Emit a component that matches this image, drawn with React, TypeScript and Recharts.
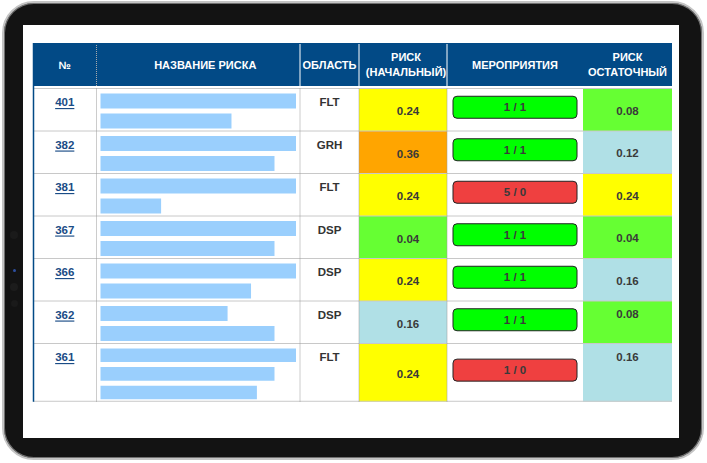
import React from "react";
import {
  ComposedChart,
  XAxis,
  YAxis,
  ReferenceArea,
  ReferenceLine,
  Scatter,
} from "recharts";

const riskIds = ["401", "382", "381", "367", "366", "362", "361"];
const riskAreas = ["FLT", "GRH", "FLT", "DSP", "DSP", "DSP", "FLT"];
const riskInitial = [0.24, 0.36, 0.24, 0.04, 0.24, 0.16, 0.24];
const measuresTotal = [1, 1, 5, 1, 1, 1, 1];
const measuresDone = [1, 1, 0, 1, 1, 1, 0];
const riskResidual = [0.08, 0.12, 0.24, 0.04, 0.16, 0.08, 0.16];
// risk titles are hidden: length of each text line, % of column width
const titleLines = [
  [100, 67],
  [100, 89],
  [100, 31],
  [100, 89],
  [100, 77],
  [65, 89],
  [100, 89, 80],
];
const headers = [
  ["№"],
  ["НАЗВАНИЕ РИСКА"],
  ["ОБЛАСТЬ"],
  ["РИСК", "(НАЧАЛЬНЫЙ)"],
  ["МЕРОПРИЯТИЯ"],
  ["РИСК", "ОСТАТОЧНЫЙ"],
];

// layout (chart units = px inside the table)
const W = 707;
const H = 463;
const LEFT = 33;
const TOP = 43;
const COLS = [0, 63.5, 267, 326, 414, 550, 639];
const HEAD_SHIFT = [0, 7, 0, 3, 0, 0];
const HEAD_H = 43;
const BODY_Y = 45.5;
const NAME_X = 67.5;
const NAME_W = 195.5;
const NAVY = "#024a86";
const FONT = "'Liberation Sans', Arial, sans-serif";

const riskColor = (v: number) =>
  v >= 0.3 ? "#ffa500" : v >= 0.2 ? "#ffff00" : v >= 0.1 ? "#b0e0e6" : "#66ff33";

let acc = BODY_Y;
const rows = riskIds.map((id, i) => {
  const lines = titleLines[i].length;
  const h = 11 + 15.75 * lines;
  const top = acc;
  acc += h;
  return { id, top, h, bottom: top + h, mid: top + h / 2, lines };
});
const TABLE_H = acc;
const TABLE_W = COLS[COLS.length - 1];

const mid = (c: number) => (COLS[c] + COLS[c + 1]) / 2;

const headerPts = headers.flatMap((lines, c) =>
  lines.map((t, k) => ({
    x: mid(c) + HEAD_SHIFT[c],
    y: lines.length === 1 ? 22 : 14 + k * 15,
    label: t,
  }))
);
const idPts = rows.map((r) => ({ x: mid(0), y: r.top + 13.5, label: r.id }));
const areaPts = rows.map((r, i) => ({ x: mid(2), y: r.top + 13.5, label: riskAreas[i] }));
const initPts = rows.map((r, i) => ({
  x: mid(3) + 5,
  y: r.mid + 1.5,
  label: riskInitial[i].toFixed(2),
}));
const measurePts = rows.map((r, i) => ({
  x: mid(4),
  y: r.mid - 2.5,
  label: `${measuresTotal[i]} / ${measuresDone[i]}`,
}));
const residualPts = rows.map((r, i) => ({
  x: mid(5),
  y: i >= 5 ? r.top + 13 : r.mid + 1,
  label: riskResidual[i].toFixed(2),
}));

const textShape =
  (fill: string, size = 11.5, extra: any = {}) =>
  (p: any) =>
    (
      <text
        x={p.cx}
        y={p.cy}
        textAnchor="middle"
        dominantBaseline="central"
        fill={fill}
        fontFamily={FONT}
        fontWeight="bold"
        fontSize={size}
        {...extra}
      >
        {p.payload.label}
      </text>
    );

const seg = (x1: number, y1: number, x2: number, y2: number) => [
  { x: x1, y: y1 },
  { x: x2, y: y2 },
];

function Frame() {
  const dot = (y: number, r: number, c: string) => (
    <div
      style={{
        position: "absolute",
        left: 14 - r,
        top: y - r,
        width: r * 2,
        height: r * 2,
        borderRadius: "50%",
        background: c,
      }}
    />
  );
  return (
    <>
      <div
        style={{
          position: "absolute",
          left: 2,
          top: 1,
          width: 698,
          height: 455,
          borderRadius: 32,
          background: "#131313",
          border: "2px solid #c4c4c4",
          boxShadow: "inset 0 0 0 1px #707070",
        }}
      />
      <div
        style={{
          position: "absolute",
          left: 23,
          top: 25,
          width: 656,
          height: 413,
          background: "#fff",
        }}
      />
      {dot(235, 4, "#1a1a1a")}
      {dot(270, 1.5, "#2d4fa0")}
      {dot(287, 4, "#1c1c1c")}
      {dot(303, 3.5, "#1a1a1a")}
    </>
  );
}

export default function App() {
  return (
    <div style={{ position: "absolute", left: 0, top: 0, width: W, height: H }}>
      <Frame />
      <div style={{ position: "absolute", left: 0, top: 0 }}>
        <ComposedChart
          width={W}
          height={H}
          margin={{ top: TOP, left: LEFT, right: W - LEFT - TABLE_W, bottom: H - TOP - TABLE_H }}
        >
          <XAxis type="number" dataKey="x" domain={[0, TABLE_W]} hide allowDataOverflow />
          <YAxis type="number" dataKey="y" domain={[0, TABLE_H]} reversed hide allowDataOverflow />

          {/* header */}
          <ReferenceArea x1={0} x2={TABLE_W} y1={0} y2={HEAD_H} fill={NAVY} fillOpacity={1} stroke="none" />

          {/* risk cells */}
          {rows.map((r, i) => (
            <ReferenceArea
              key={`ini${i}`}
              x1={COLS[3]}
              x2={COLS[4]}
              y1={r.top}
              y2={r.bottom}
              fill={riskColor(riskInitial[i])}
              fillOpacity={1}
              stroke="none"
            />
          ))}
          {rows.map((r, i) => (
            <ReferenceArea
              key={`res${i}`}
              x1={COLS[5]}
              x2={COLS[6]}
              y1={r.top}
              y2={r.bottom}
              fill={riskColor(riskResidual[i])}
              fillOpacity={1}
              stroke="none"
            />
          ))}

          {/* hidden titles */}
          {rows.flatMap((r, i) => {
            const pitch = (r.h - 7.5 + 5) / r.lines;
            return titleLines[i].map((pct, j) => (
              <ReferenceArea
                key={`t${i}-${j}`}
                x1={NAME_X}
                x2={NAME_X + (pct / 100) * NAME_W}
                y1={r.top + 5 + j * pitch}
                y2={r.top + j * pitch + pitch}
                fill="#9acffd"
                fillOpacity={1}
                stroke="none"
              />
            ));
          })}

          {/* measures buttons */}
          {rows.map((r, i) => (
            <ReferenceArea
              key={`m${i}`}
              x1={COLS[4] + 6}
              x2={COLS[5] - 6}
              y1={r.mid - 13.5}
              y2={r.mid + 8.5}
              shape={(p: any) => (
                <rect
                  x={p.x}
                  y={p.y}
                  width={p.width}
                  height={p.height}
                  rx={4}
                  ry={4}
                  fill={measuresDone[i] > 0 ? "#00ff00" : "#ef4040"}
                  stroke="#222"
                  strokeWidth={1}
                />
              )}
            />
          ))}

          {/* grid */}
          {rows.map((r, i) => (
            <ReferenceLine key={`h${i}`} segment={seg(0, r.top, TABLE_W, r.top)} stroke="#c8c8c8" />
          ))}
          <ReferenceLine segment={seg(0, TABLE_H - 0.5, TABLE_W, TABLE_H - 0.5)} stroke="#c8c8c8" />
          {[1, 2, 3, 4].map((c) => (
            <ReferenceLine
              key={`v${c}`}
              segment={seg(COLS[c], BODY_Y, COLS[c], TABLE_H)}
              stroke="#999"
              strokeDasharray="1 1"
            />
          ))}
          <ReferenceLine segment={seg(COLS[1], 0, COLS[1], HEAD_H)} stroke="#aaa" strokeDasharray="1 1" />
          {[2, 3, 4].map((c) => (
            <ReferenceLine key={`hv${c}`} segment={seg(COLS[c], 0, COLS[c], HEAD_H)} stroke="#fff" />
          ))}
          <ReferenceLine segment={seg(0.5, 0, 0.5, TABLE_H)} stroke={NAVY} strokeWidth={1.5} />
          <ReferenceLine segment={seg(0, 0.5, TABLE_W, 0.5)} stroke={NAVY} />

          {/* texts */}
          <Scatter data={headerPts} isAnimationActive={false} shape={textShape("#fff", 11)} />
          <Scatter
            data={idPts}
            isAnimationActive={false}
            shape={textShape("#1a4c86", 11.5, { style: { textDecoration: "underline" } })}
          />
          <Scatter data={areaPts} isAnimationActive={false} shape={textShape("#333")} />
          <Scatter data={initPts} isAnimationActive={false} shape={textShape("#3a3a3a")} />
          <Scatter data={measurePts} isAnimationActive={false} shape={textShape("#3a3a3a")} />
          <Scatter data={residualPts} isAnimationActive={false} shape={textShape("#3a3a3a")} />
        </ComposedChart>
      </div>
    </div>
  );
}
